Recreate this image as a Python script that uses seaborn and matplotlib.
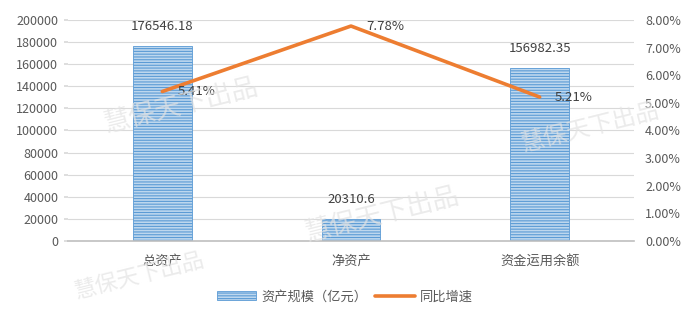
import matplotlib
matplotlib.use("Agg")
import matplotlib.pyplot as plt
import seaborn as sns
import pandas as pd
from matplotlib.ticker import FuncFormatter, MultipleLocator

categories = ["总资产", "净资产", "资金运用余额"]
scale_values = [176546.18, 20310.6, 156982.35]
scale_labels = ["176546.18", "20310.6", "156982.35"]
growth_values = [5.41, 7.78, 5.21]
growth_labels = ["5.41%", "7.78%", "5.21%"]
bar_name = "资产规模（亿元）"
line_name = "同比增速"
watermark = "慧保天下出品"

sns.set_theme(style="white")
plt.rcParams['font.family'] = ['Noto Sans CJK SC', 'DejaVu Sans']
plt.rcParams['hatch.linewidth'] = 0.8

df = pd.DataFrame({"cat": categories, "val": scale_values, "g": growth_values})

fig = plt.figure(figsize=(6.94, 3.2), dpi=100)
ax = fig.add_axes([0.098, 0.247, 0.8155, 0.6906])
txt = "#595959"

# watermarks (faint, behind everything)
for (x, y, s) in [(0.26, 0.67, 19), (0.55, 0.33, 19), (0.85, 0.6, 17),
                  (0.2, 0.14, 16)]:
    fig.text(x, y, watermark, fontsize=s, color="#e3e3e3", alpha=0.7,
             rotation=14, ha="center", va="center", zorder=0)

sns.barplot(data=df, x="cat", y="val", ax=ax, width=0.31,
            color="#bdd7ee", edgecolor="#5b9bd5", linewidth=0.6, label=bar_name)
for p in ax.patches:
    p.set_hatch("------")
    p.set_facecolor("#bdd7ee")
    p.set_edgecolor("#5b9bd5")
if ax.get_legend() is not None:
    ax.get_legend().remove()
ax.patch.set_alpha(0)

ax.set_ylim(0, 200000)
ax.yaxis.set_major_locator(MultipleLocator(20000))
ax.grid(axis="y", color="#d9d9d9", linewidth=0.8)
ax.set_axisbelow(True)
ax.set_xlabel("")
ax.set_ylabel("")
for s in ["top", "right", "left"]:
    ax.spines[s].set_visible(False)
ax.spines["bottom"].set_color("#bfbfbf")
ax.spines["bottom"].set_linewidth(1.2)
ax.tick_params(axis="y", labelsize=9, colors=txt, length=3, color="#d9d9d9", pad=4)
ax.tick_params(axis="x", labelsize=9.5, colors=txt, length=0, pad=10)
ax.set_xlim(-0.5, 2.5)

for i, (v, lab) in enumerate(zip(scale_values, scale_labels)):
    ax.annotate(lab, (i, v), xytext=(0, 9), textcoords="offset points",
                ha="center", va="bottom", fontsize=9.5, color="#404040")

ax2 = ax.twinx()
sns.lineplot(data=df, x="cat", y="g", ax=ax2, color="#ed7d31", linewidth=2.6,
             label=line_name, legend=False)
ax2.set_ylim(0, 8)
ax2.yaxis.set_major_locator(MultipleLocator(1))
ax2.yaxis.set_major_formatter(FuncFormatter(lambda v, p: f"{v:.2f}%"))
ax2.tick_params(axis="y", labelsize=9, colors=txt, length=0, pad=8)
ax2.set_ylabel("")
ax2.patch.set_alpha(0)
for s in ["top", "right", "left", "bottom"]:
    ax2.spines[s].set_visible(False)

for i, (g, lab) in enumerate(zip(growth_values, growth_labels)):
    ax2.annotate(lab, (i, g), xytext=(11, 0), textcoords="offset points",
                 ha="left", va="center", fontsize=9.5, color="#404040")

h1, l1 = ax.get_legend_handles_labels()
h2, l2 = ax2.get_legend_handles_labels()
fig.legend(h1 + h2, l1 + l2, loc="center", bbox_to_anchor=(0.497, 0.072), ncol=2,
           frameon=False, fontsize=9.5, labelcolor=txt, handlelength=3.0,
           columnspacing=0.6, handletextpad=0.4)

fig.savefig("out.png", dpi=100, facecolor="white")
